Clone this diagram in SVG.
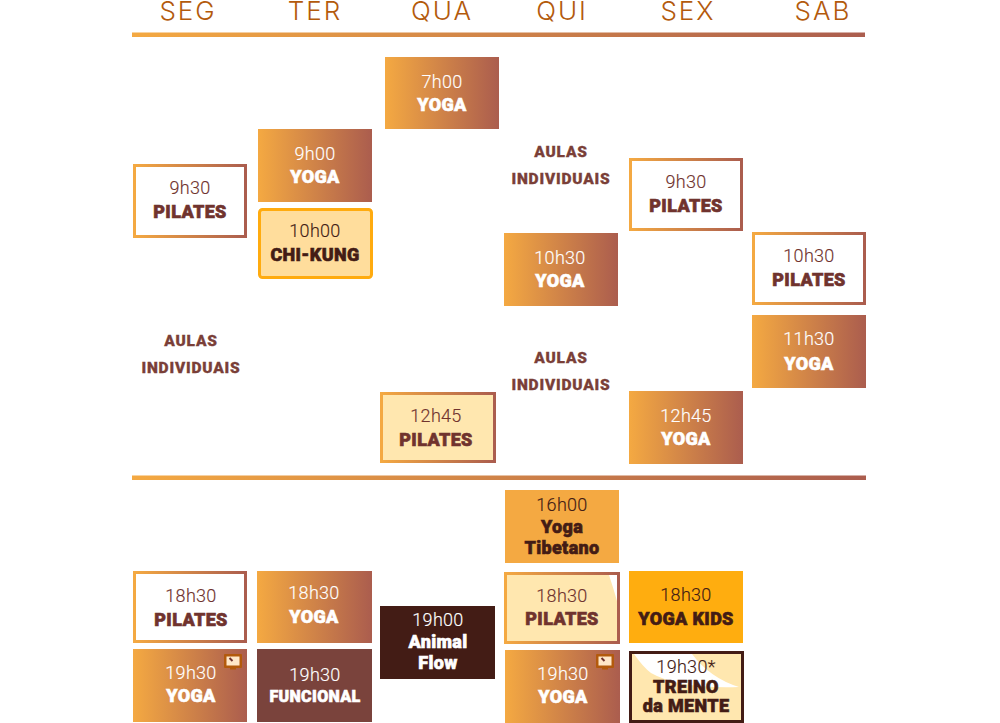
<svg xmlns="http://www.w3.org/2000/svg" width="1000" height="723" viewBox="0 0 1000 723">
<style>
text{text-anchor:middle}
.d{font:300 26px Inter,"Liberation Sans",sans-serif;fill:#B35A0C;letter-spacing:2px}
.t{font:300 18px Roboto,"Liberation Sans",sans-serif;letter-spacing:.3px;stroke-width:.15}
.b{font:900 18px Roboto,"Liberation Sans",sans-serif;letter-spacing:.35px;stroke-width:.6}
.a{font:900 15.500px Roboto,"Liberation Sans",sans-serif;fill:#7A3F38;stroke:#7A3F38;stroke-width:.3;letter-spacing:.8px}
.w{fill:#fff;stroke:#fff}.r{fill:#70332E;stroke:#70332E}.k{fill:#431C15;stroke:#431C15}
.g{fill:url(#g)}.s{fill:#fff;stroke:url(#g);stroke-width:3}.c{fill:#FFE7AF;stroke:url(#g);stroke-width:3}
</style>
<defs>
<linearGradient id="g" x1="0" y1="0" x2="1" y2="0"><stop offset="0" stop-color="#F4A942"/><stop offset="1" stop-color="#AB5D4E"/></linearGradient>
<linearGradient id="h" gradientUnits="userSpaceOnUse" x1="132" y1="0" x2="866" y2="0"><stop offset="0" stop-color="#F4A942"/><stop offset="1" stop-color="#AB5D4E"/></linearGradient>
<g id="icon"><rect width="18" height="14" rx="1" fill="#B35A0C"/><rect x="2.500" y="2.500" width="13" height="9" fill="#FFE7C8"/><path d="M5.500 4l3 3" stroke="#70332E" stroke-width="2"/><rect x="6" y="14" width="6" height="1.500" fill="#B35A0C"/></g>
</defs>
<g id="headers">
<text class="d" x="188" y="19.500">SEG</text><text class="d" x="315" y="19.500">TER</text><text class="d" x="442" y="19.500">QUA</text><text class="d" x="562" y="19.500">QUI</text><text class="d" x="688" y="19.500">SEX</text><text class="d" x="823" y="19.500">SAB</text>
</g>
<g id="dividers">
<rect x="132" y="32.500" width="733" height="4.500" fill="url(#h)"/><rect x="132" y="475.500" width="734" height="4.500" fill="url(#h)"/>
</g>
<g id="yoga-qua-7"><rect class="g" x="385" y="57" width="114" height="72"/><text class="t w" x="442" y="88">7h00</text><text class="b w" x="442" y="111">YOGA</text></g>
<g id="yoga-ter-9"><rect class="g" x="258" y="129" width="114" height="73"/><text class="t w" x="315" y="160">9h00</text><text class="b w" x="315" y="183">YOGA</text></g>
<g id="pilates-seg-9"><rect class="s" x="134.500" y="165.500" width="111" height="71"/><text class="t r" x="190" y="194">9h30</text><text class="b r" x="190" y="218">PILATES</text></g>
<g id="chikung"><rect x="259.500" y="209.500" width="112" height="68" rx="3" fill="#FFDD9C" stroke="#FFAB0F" stroke-width="3"/><text class="t k" x="315" y="237">10h00</text><text class="b k" x="315" y="261">CHI-KUNG</text></g>
<g id="individuais-seg"><text class="a" x="191" y="346">AULAS</text><text class="a" x="191" y="373">INDIVIDUAIS</text></g>
<g id="individuais-qui-1"><text class="a" x="561" y="157">AULAS</text><text class="a" x="561" y="184">INDIVIDUAIS</text></g>
<g id="individuais-qui-2"><text class="a" x="561" y="363">AULAS</text><text class="a" x="561" y="390">INDIVIDUAIS</text></g>
<g id="pilates-sex-9"><rect class="s" x="630.500" y="159.500" width="111" height="70"/><text class="t r" x="686" y="188">9h30</text><text class="b r" x="686" y="212">PILATES</text></g>
<g id="yoga-qui-10"><rect class="g" x="504" y="233" width="114" height="73"/><text class="t w" x="560" y="264">10h30</text><text class="b w" x="560" y="287">YOGA</text></g>
<g id="pilates-sab-10"><rect class="s" x="753.500" y="233.500" width="111" height="70"/><text class="t r" x="809" y="262">10h30</text><text class="b r" x="809" y="286">PILATES</text></g>
<g id="yoga-sab-11"><rect class="g" x="752" y="315" width="114" height="73"/><text class="t w" x="809" y="345">11h30</text><text class="b w" x="809" y="370">YOGA</text></g>
<g id="pilates-qua-12"><rect class="c" x="381.500" y="393.500" width="113" height="68"/><text class="t r" x="436" y="422">12h45</text><text class="b r" x="436" y="446">PILATES</text></g>
<g id="yoga-sex-12"><rect class="g" x="629" y="391" width="114" height="73"/><text class="t w" x="686" y="422">12h45</text><text class="b w" x="686" y="445">YOGA</text></g>
<g id="yoga-tibetano"><rect x="505" y="490" width="114" height="73" fill="#F4A942"/><text class="t k" x="562" y="511">16h00</text><text class="b k" x="562" y="533">Yoga</text><text class="b k" x="562" y="554">Tibetano</text></g>
<g id="pilates-seg-18"><rect class="s" x="134.500" y="572.500" width="111" height="69"/><text class="t r" x="191" y="602">18h30</text><text class="b r" x="191" y="626">PILATES</text></g>
<g id="yoga-ter-18"><rect class="g" x="257" y="571" width="115" height="72"/><text class="t w" x="314" y="599">18h30</text><text class="b w" x="314" y="623">YOGA</text></g>
<g id="animal-flow"><rect x="380" y="606" width="115" height="73" fill="#431C15"/><text class="t w" x="438" y="626">19h00</text><text class="b w" x="438" y="648">Animal</text><text class="b w" x="438" y="669">Flow</text></g>
<g id="pilates-qui-18"><rect class="c" x="505.500" y="573.500" width="113" height="69"/><path d="M609 575h8v26q-4-14-8-26z" fill="#fff"/><text class="t r" x="562" y="602">18h30</text><text class="b r" x="562" y="625">PILATES</text></g>
<g id="yoga-kids"><rect x="629" y="571" width="114" height="72" fill="#FFAD0F"/><text class="t k" x="686" y="601">18h30</text><text class="b k" x="686" y="625">YOGA KIDS</text></g>
<g id="yoga-seg-19"><rect class="g" x="133" y="649" width="114" height="73"/><use href="#icon" x="224" y="654"/><text class="t w" x="191" y="679">19h30</text><text class="b w" x="191" y="702">YOGA</text></g>
<g id="funcional"><rect x="257" y="649" width="115" height="73" fill="#7A433C"/><text class="t w" x="315" y="681">19h30</text><text class="b w" x="315" y="702" style="font-size:16px">FUNCIONAL</text></g>
<g id="yoga-qui-19"><rect class="g" x="505" y="650" width="115" height="73"/><use href="#icon" x="596" y="654"/><text class="t w" x="563" y="680">19h30</text><text class="b w" x="563" y="703">YOGA</text></g>
<g id="treino"><rect x="630.500" y="652.500" width="112" height="69" fill="#FFE7AF" stroke="#431C15" stroke-width="3"/><path d="M634 654h58q18 24 47 33q-60 2-88-14q-8-6-17-19z" fill="#fff"/><text class="t k" x="686" y="673">19h30*</text><text class="b k" x="686" y="693">TREINO</text><text class="b k" x="686" y="712">da MENTE</text></g>
</svg>
